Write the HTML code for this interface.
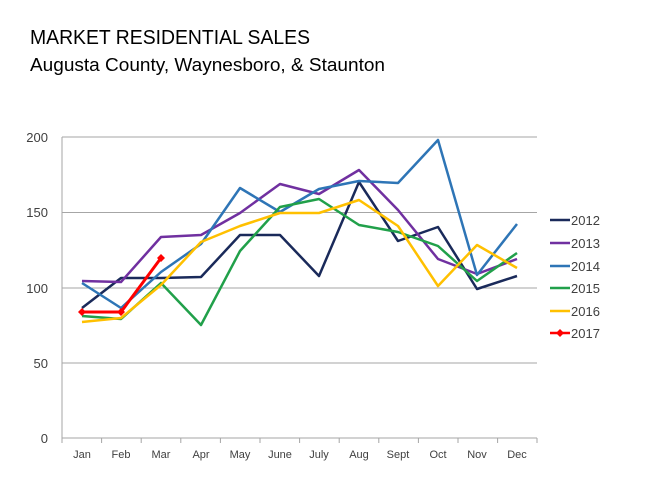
<!DOCTYPE html>
<html><head><style>body{margin:0;background:#fff}svg{display:block}</style></head><body>
<svg width="647" height="485" xmlns="http://www.w3.org/2000/svg" font-family="Liberation Sans, sans-serif">
<text x="30" y="44" font-size="20" fill="#000" textLength="280" lengthAdjust="spacingAndGlyphs">MARKET RESIDENTIAL SALES</text>
<text x="30" y="71" font-size="18" fill="#000" textLength="355" lengthAdjust="spacingAndGlyphs">Augusta County, Waynesboro, &amp; Staunton</text>
<g stroke="#a6a6a6" stroke-width="1">
<line x1="62" y1="137" x2="537" y2="137"/><line x1="62" y1="212.5" x2="537" y2="212.5"/>
<line x1="62" y1="288" x2="537" y2="288"/><line x1="62" y1="363" x2="537" y2="363"/>
<line x1="62" y1="438" x2="537" y2="438"/><line x1="62" y1="137" x2="62" y2="438"/>
<path d="M101.6 438v5M141.2 438v5M180.8 438v5M220.4 438v5M260 438v5M299.6 438v5M339.2 438v5M378.8 438v5M418.4 438v5M458 438v5M497.6 438v5M537 438v5M62 438v5"/>
</g>
<g font-size="13" fill="#404040" text-anchor="end">
<text x="48" y="142">200</text><text x="48" y="217">150</text><text x="48" y="293">100</text><text x="48" y="368">50</text><text x="48" y="443">0</text>
</g>
<g font-size="11" fill="#404040" text-anchor="middle">
<text x="82" y="458">Jan</text><text x="121" y="458">Feb</text><text x="161" y="458">Mar</text><text x="201" y="458">Apr</text><text x="240" y="458">May</text><text x="280" y="458">June</text><text x="319" y="458">July</text><text x="359" y="458">Aug</text><text x="398" y="458">Sept</text><text x="438" y="458">Oct</text><text x="477" y="458">Nov</text><text x="517" y="458">Dec</text>
</g>
<g fill="none" stroke-width="2.5" stroke-linejoin="round">
<polyline stroke="#1a2a5a" points="82,308 121,278 161,278 201,277 240,235 280,235 319,276 359,182 398,241 438,227 477,289 517,276"/>
<polyline stroke="#7030a0" points="82,281 121,282 161,237 201,235 240,213 280,184 319,194 359,170 398,210 438,259 477,274 517,259"/>
<polyline stroke="#2e75b6" points="82,283 121,308 161,272 201,244 240,188 280,212 319,189 359,181 398,183 438,140 477,275 517,224"/>
<polyline stroke="#21a04a" points="82,316 121,319 161,283 201,325 240,251 280,207 319,199 359,225 398,232 438,246 477,281 517,253"/>
<polyline stroke="#ffc000" points="82,322 121,318 161,285 201,242 240,226 280,213 319,213 359,200 398,226 438,286 477,245 517,268"/>
<polyline stroke="#ff0000" stroke-width="3" points="82,312 121,312 161,258"/>
</g>
<g fill="#ff0000"><path d="M82 308l4 4-4 4-4-4z"/><path d="M121 308l4 4-4 4-4-4z"/><path d="M161 254l4 4-4 4-4-4z"/></g>
<g stroke-width="2.5">
<line x1="550" y1="220" x2="570" y2="220" stroke="#1a2a5a"/>
<line x1="550" y1="243" x2="570" y2="243" stroke="#7030a0"/>
<line x1="550" y1="266" x2="570" y2="266" stroke="#2e75b6"/>
<line x1="550" y1="288" x2="570" y2="288" stroke="#21a04a"/>
<line x1="550" y1="311" x2="570" y2="311" stroke="#ffc000"/>
<line x1="550" y1="333" x2="570" y2="333" stroke="#ff0000"/>
</g>
<path d="M560 329l4 4-4 4-4-4z" fill="#ff0000"/>
<g font-size="13" fill="#404040">
<text x="571" y="225">2012</text><text x="571" y="248">2013</text><text x="571" y="271">2014</text><text x="571" y="293">2015</text><text x="571" y="316">2016</text><text x="571" y="338">2017</text>
</g>
</svg>
</body></html>
